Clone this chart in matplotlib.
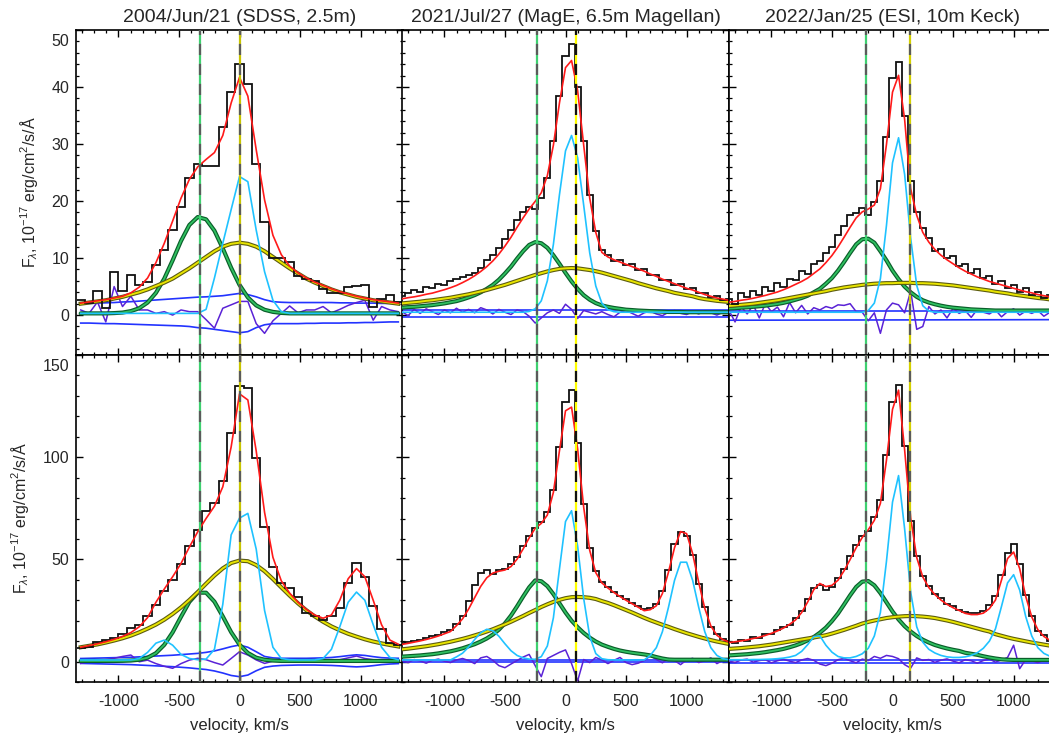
import numpy as np
import matplotlib
matplotlib.use("Agg")
import matplotlib.pyplot as plt
import matplotlib.transforms as mtransforms
from matplotlib.ticker import MultipleLocator

plt.rcParams['font.family'] = ['Liberation Sans', 'DejaVu Sans']
plt.rcParams['mathtext.fontset'] = 'custom'
plt.rcParams['mathtext.rm'] = 'Liberation Sans'
plt.rcParams['mathtext.it'] = 'Liberation Sans:italic'
plt.rcParams['axes.unicode_minus'] = False

# ---------------- text ----------------
titles = ["2004/Jun/21 (SDSS, 2.5m)", "2021/Jul/27 (MagE, 6.5m Magellan)",
          "2022/Jan/25 (ESI, 10m Keck)"]
ylabel = r"F$_\lambda$, 10$^{-17}$ erg/cm$^2$/s/Å"
xlabel = "velocity, km/s"

# ---------------- velocity grids ----------------
vel_sdss = [-1311, -1242, -1173, -1104, -1035, -966, -897, -828, -759, -690,
            -621, -552, -483, -414, -345, -276, -207, -138, -69, 0,
            69, 138, 207, 276, 345, 414, 483, 552, 621, 690,
            759, 828, 897, 966, 1035, 1104, 1173, 1242, 1311]
vel_hr = [-1350, -1300, -1250, -1200, -1150, -1100, -1050, -1000, -950, -900, -850,
          -800, -750, -700, -650, -600, -550, -500, -450, -400, -350, -300,
          -250, -200, -150, -100, -50, 0, 50, 100, 150, 200, 250,
          300, 350, 400, 450, 500, 550, 600, 650, 700, 750, 800,
          850, 900, 950, 1000, 1050, 1100, 1150, 1200, 1250, 1300, 1350]
vel_err = [-1350, 0, 1350]

# vertical reference velocities per column
vline_green = [-324, -235, -220]
vline_yellow = [0, 90, 145]

# ======== SDSS, top ========
sdss_top_flux = [2.7, 2.1, 4.2, 1.2, 7.5, 4.2, 7.0, 5.3, 5.8, 8.8, 11.4, 14.9, 19.0, 24.0, 26.5,
                 26.2, 26.2, 33.0, 39.1, 44.0, 40.5, 26.5, 16.4, 10.1, 10.0, 9.3, 6.8, 6.3, 5.9,
                 4.6, 3.9, 3.8, 5.0, 5.1, 5.3, 1.4, 2.8, 3.5, 2.3]
sdss_top_fit = [2.1, 2.3, 2.5, 2.7, 3.0, 3.3, 3.9, 4.9, 6.5, 9.2, 12.6, 16.5, 20.5, 23.8, 26.0,
                27.3, 28.5, 31.5, 37.2, 41.7, 38.4, 29.0, 20.2, 14.0, 10.6, 8.6, 7.4, 6.5, 5.8,
                5.2, 4.6, 4.1, 3.7, 3.3, 3.0, 2.7, 2.5, 2.3, 2.1]
sdss_top_narrow = [0.3, 0.3, 0.3, 0.3, 0.3, 0.3, 0.3, 0.3, 0.3, 0.3, 0.3, 0.3, 0.3, 0.3, 0.3,
                   1.0, 6.5, 12.6, 18.5, 24.3, 23.4, 14.9, 7.6, 2.6, 0.6, 0.3, 0.3, 0.3, 0.3,
                   0.3, 0.3, 0.3, 0.3, 0.3, 0.3, 0.3, 0.3, 0.3, 0.3]
sdss_top_inter = [0.3, 0.3, 0.3, 0.3, 0.35, 0.44, 0.7, 1.2, 2.2, 3.9, 6.4, 9.6, 13.0, 15.8, 17.2,
                  16.8, 14.8, 11.7, 8.3, 5.3, 3.1, 1.7, 0.93, 0.56, 0.38, 0.3, 0.3, 0.3, 0.3,
                  0.3, 0.3, 0.3, 0.3, 0.3, 0.3, 0.3, 0.3, 0.3, 0.3]
sdss_top_broad = [2.0, 2.2, 2.4, 2.6, 2.9, 3.2, 3.6, 4.0, 4.5, 5.1, 5.7, 6.4, 7.3, 8.2, 9.2,
                  10.2, 11.2, 12.0, 12.5, 12.7, 12.5, 12.0, 11.2, 10.2, 9.2, 8.2, 7.3, 6.4, 5.7,
                  5.1, 4.5, 4.0, 3.6, 3.2, 2.9, 2.6, 2.4, 2.2, 2.0]
sdss_top_err_hi = [2.0, 2.05, 2.1, 2.15, 2.2, 2.3, 2.35, 2.45, 2.55, 2.65, 2.75, 2.85, 2.95, 3.05,
                   3.15, 3.2, 3.3, 3.4, 3.6, 3.8, 3.6, 3.2, 2.7, 2.35, 2.25, 2.2, 2.2, 2.2, 2.2,
                   2.2, 2.2, 2.15, 2.15, 2.1, 2.1, 2.1, 2.05, 2.05, 2.0]
sdss_top_err_lo = [-1.4, -1.4, -1.45, -1.5, -1.5, -1.55, -1.6, -1.65, -1.7, -1.75, -1.8, -1.85,
                   -1.9, -2.0, -2.2, -2.3, -2.5, -2.7, -2.9, -3.1, -2.9, -2.2, -1.7, -1.5, -1.5,
                   -1.5, -1.5, -1.45, -1.45, -1.4, -1.4, -1.4, -1.35, -1.35, -1.3, -1.3, -1.25,
                   -1.2, -1.2]
sdss_top_resid = [0.9, 0.3, 2.3, -1.2, 5.0, 1.5, 3.3, 0.9, 0.9, 0.3, 0.6, 0.0, 0.9, 0.6,
                  0.6, -0.8, -2.3, 1.2, 1.8, 2.4, 2.4, -1.5, -3.2, -1.0, 0.3, 1.6, 0.4, 0.9, 0.9,
                  1.5, 0.4, 1.0, 1.7, 2.2, 2.6, -0.9, 1.5, 0.9, 0.6]

# ======== SDSS, bottom ========
sdss_bot_flux = [6.5, 7.3, 9.7, 10.5, 11.4, 13.5, 16.6, 17.9, 22.3, 27.5, 34.5, 40.0, 47.5, 56.5,
                 64.5, 73.5, 77.7, 88.5, 112.0, 134.8, 133.7, 99.4, 66.0, 46.4, 38.3, 35.8, 31.7,
                 23.9, 22.3, 20.3, 22.3, 26.4, 38.3, 48.0, 41.2, 27.3, 15.9, 8.9, 8.1]
sdss_bot_fit = [7.0, 7.8, 8.7, 9.7, 10.9, 12.3, 14.2, 17.0, 21.5, 29.0, 35.5, 41.5, 48.0, 56.0,
                63.5, 70.0, 76.0, 85.5, 105.0, 131.0, 128.0, 103.0, 73.0, 51.0, 39.5, 33.5, 29.0,
                25.5, 22.8, 21.2, 22.8, 30.0, 40.5, 45.5, 41.5, 30.0, 18.0, 10.5, 8.5]
sdss_bot_narrow = [0.8, 0.8, 0.8, 0.8, 0.8, 0.8, 0.8, 1.5, 4.5, 9.0, 10.5, 8.0, 3.5, 1.5, 0.9,
                   1.2, 6.0, 28.0, 62.0, 70.2, 72.5, 55.0, 25.0, 7.0, 1.5, 0.9, 0.8, 0.8, 0.8,
                   1.5, 6.0, 17.0, 29.0, 34.0, 30.0, 18.0, 7.0, 2.0, 0.9]
sdss_bot_inter = [0.3, 0.3, 0.3, 0.3, 0.3, 0.35, 0.5, 0.9, 1.9, 4.1, 8.2, 14.3, 21.9, 29.2, 33.7,
                  33.7, 29.3, 22.1, 14.4, 8.3, 4.2, 1.9, 0.9, 0.5, 0.3, 0.3, 0.3, 0.3, 0.3,
                  0.3, 0.3, 0.3, 0.3, 0.3, 0.3, 0.3, 0.3, 0.3, 0.3]
sdss_bot_broad = [7.0, 7.7, 8.4, 9.3, 10.3, 11.4, 12.7, 14.3, 16.1, 18.1, 20.5, 23.3, 26.5, 30.1,
                  34.0, 38.1, 42.1, 45.6, 48.2, 49.4, 49.1, 47.2, 44.2, 40.4, 36.3, 32.3, 28.5,
                  25.1, 22.1, 19.5, 17.2, 15.3, 13.6, 12.2, 10.9, 9.8, 8.9, 8.1, 7.4]
sdss_bot_err_hi = [1.5, 1.6, 1.7, 1.8, 1.9, 2.0, 2.1, 2.3, 2.5, 2.7, 2.9, 3.1, 3.4, 3.7, 4.0, 4.5,
                   5.2, 6.2, 7.3, 8.1, 7.0, 4.8, 2.5, 1.8, 1.6, 1.6, 1.6, 1.6, 1.7, 1.8, 2.0, 2.4,
                   2.9, 3.3, 3.0, 2.4, 1.9, 1.7, 1.6]
sdss_bot_err_lo = [-0.9, -1.0, -1.1, -1.2, -1.3, -1.4, -1.5, -1.7, -1.9, -2.1, -2.3, -2.5, -2.8,
                   -3.1, -3.5, -3.9, -4.6, -5.6, -6.8, -7.4, -6.6, -4.5, -2.8, -2.2, -1.9, -1.8,
                   -1.7, -1.7, -1.7, -1.8, -1.9, -2.1, -2.4, -2.6, -2.4, -2.0, -1.5, -1.2, -1.0]
sdss_bot_resid = [-0.9, 0.0, 0.5, 1.0, 1.6, 2.5, 3.2, -0.1, 0.7, -1.0, -2.3, -3.3, -1.0, 0.7,
                  1.6, 0.9, -0.5, -1.7, 1.5, 4.8, 3.2, 0.8, -0.9, 0.2, 0.7, 0.3, 0.7, 0.2, 0.7,
                  0.5, 0.3, 0.9, 1.8, 2.7, 1.5, 0.9, 0.5, 0.8, 0.5]

# ======== MagE, top ========
mage_top_flux = [3.3, 3.9, 4.4, 4.0, 4.9, 4.8, 5.5, 5.3, 5.9, 6.4, 6.6,
                 7.1, 7.4, 8.3, 9.6, 10.6, 11.8, 13.4, 14.9, 16.6, 18.0, 19.0,
                 18.6, 20.5, 24.0, 30.5, 38.5, 45.5, 47.5, 40.0, 30.5, 21.0, 14.8,
                 11.4, 10.6, 9.5, 9.7, 8.7, 8.9, 7.9, 8.0, 7.1, 7.0, 6.1,
                 6.2, 5.3, 5.4, 4.5, 4.7, 3.8, 3.9, 3.1, 3.3, 2.6, 2.9]
mage_top_fit = [2.85, 3.05, 3.2, 3.4, 3.65, 3.85, 4.15, 4.45, 4.8, 5.2, 5.7,
                6.25, 6.9, 7.65, 8.5, 9.5, 10.7, 12.1, 13.65, 15.4, 17.05, 18.6,
                19.95, 21.45, 24.45, 29.8, 37.2, 43.4, 44.65, 39.4, 29.85, 20.5, 14.5,
                11.0, 10.2, 9.7, 9.3, 8.9, 8.5, 8.1, 7.7, 7.2, 6.8, 6.3,
                5.9, 5.5, 5.1, 4.7, 4.4, 4.0, 3.6, 3.3, 3.0, 2.8, 2.6]
mage_top_narrow = [0.5, 0.5, 0.5, 0.5, 0.5, 0.5, 0.5, 0.5, 0.5, 0.5, 0.5,
                   0.5, 0.5, 0.5, 0.5, 0.5, 0.5, 0.5, 0.5, 0.5, 0.5, 0.64,
                   1.1, 2.5, 6.0, 12.4, 21.1, 28.8, 31.5, 27.6, 19.3, 10.9, 5.1,
                   2.1, 0.95, 0.6, 0.5, 0.5, 0.5, 0.5, 0.5, 0.5, 0.5, 0.5,
                   0.5, 0.5, 0.5, 0.5, 0.5, 0.5, 0.5, 0.5, 0.5, 0.5, 0.5]
mage_top_inter = [1.3, 1.4, 1.45, 1.55, 1.65, 1.75, 1.9, 2.05, 2.25, 2.45, 2.75,
                  3.1, 3.5, 4.0, 4.6, 5.3, 6.2, 7.3, 8.5, 9.9, 11.2, 12.3,
                  12.8, 12.6, 11.8, 10.5, 9.0, 7.4, 5.9, 4.6, 3.5, 2.7, 2.1,
                  1.7, 1.45, 1.25, 1.1, 0.95, 0.88, 0.8, 0.75, 0.7, 0.65, 0.6,
                  0.55, 0.55, 0.55, 0.5, 0.5, 0.5, 0.5, 0.5, 0.5, 0.5, 0.5]
mage_top_broad = [2.05, 2.15, 2.25, 2.35, 2.5, 2.6, 2.75, 2.9, 3.05, 3.25, 3.45,
                  3.65, 3.9, 4.15, 4.4, 4.7, 5.0, 5.3, 5.65, 6.0, 6.35, 6.7,
                  7.05, 7.35, 7.65, 7.9, 8.1, 8.2, 8.25, 8.2, 8.05, 7.9, 7.7,
                  7.45, 7.15, 6.85, 6.55, 6.25, 5.95, 5.6, 5.3, 5.0, 4.7, 4.45,
                  4.2, 3.9, 3.7, 3.5, 3.3, 3.0, 2.8, 2.65, 2.5, 2.4, 2.3]
mage_top_err_hi = [0.9, 0.9, 0.9]
mage_top_err_lo = [-0.4, -0.4, -0.4]
mage_top_resid = [0.6, -0.1, 1.0, 0.3, 1.1, 0.6, 0.1, 0.9, 0.4, 1.2, 0.5,
                  1.0, 0.4, 1.3, 0.9, 0.2, 1.0, 0.5, 0.1, 0.9, 0.6, -0.2,
                  -1.4, -0.5, 0.4, 0.9, 0.3, 1.9, 1.0, -0.6, 0.8, 0.5, 0.2,
                  0.6, 0.1, -0.3, 0.5, 0.8, 0.3, -0.2, 0.4, 0.7, 0.2, -0.1,
                  0.5, 0.8, 0.3, 0.1, 0.6, 0.2, 0.7, 0.4, 0.0, 0.5, 0.3]

# ======== MagE, bottom ========
mage_bot_flux = [8.9, 9.5, 10.2, 10.6, 11.4, 12.3, 13.2, 14.3, 15.4, 18.3, 22.5,
                 29.5, 37.5, 43.5, 44.8, 43.0, 44.6, 45.5, 47.5, 51.0, 56.5, 61.5,
                 65.5, 68.5, 73.0, 84.0, 105.0, 127.0, 133.0, 107.0, 77.0, 55.5, 44.5,
                 38.8, 36.4, 34.2, 32.0, 30.4, 28.6, 27.2, 25.8, 26.0, 28.0, 34.5,
                 45.0, 57.5, 63.5, 61.5, 52.0, 38.0, 26.5, 17.0, 13.4, 11.0, 9.9]
mage_bot_fit = [8.4, 8.9, 9.5, 10.1, 10.8, 11.6, 12.5, 13.6, 14.7, 17.6, 20.9,
                25.7, 31.3, 36.8, 41.0, 43.3, 44.2, 44.8, 46.5, 50.1, 55.1, 60.5,
                65.2, 67.6, 71.7, 82.8, 103.1, 122.7, 124.5, 104.1, 75.6, 54.4, 43.5,
                38.5, 36.0, 33.8, 31.8, 30.0, 28.3, 26.6, 24.9, 25.4, 27.3, 33.3,
                43.7, 55.7, 63.6, 62.6, 52.8, 38.7, 26.0, 17.4, 12.9, 10.7, 9.6]
mage_bot_narrow = [0.8, 0.8, 0.8, 0.8, 0.8, 0.8, 0.8, 0.8, 0.8, 2.3, 4.1,
                   7.1, 10.8, 14.1, 15.8, 15.1, 12.4, 8.7, 5.3, 3.0, 1.8, 1.2,
                   1.1, 2.4, 7.6, 21.4, 45.2, 68.5, 73.8, 56.5, 30.9, 12.3, 3.9,
                   1.4, 0.9, 0.8, 0.8, 0.8, 0.8, 0.8, 0.8, 3.0, 6.8, 14.6,
                   26.5, 39.7, 48.6, 48.6, 39.7, 26.5, 14.6, 6.8, 3.0, 1.4, 0.9]
mage_bot_inter = [2.4, 2.6, 2.8, 3.0, 3.3, 3.6, 4.0, 4.5, 5.0, 5.7, 6.5,
                  7.5, 8.5, 9.8, 11.3, 13.2, 15.6, 18.7, 22.5, 27.0, 31.8, 36.3,
                  39.7, 39.3, 36.9, 33.0, 28.5, 24.0, 20.0, 16.8, 14.0, 11.7, 9.8,
                  8.3, 7.2, 6.2, 5.4, 4.8, 4.3, 3.9, 3.5, 3.0, 2.2, 1.5,
                  1.0, 0.9, 0.9, 0.9, 0.9, 0.9, 0.9, 0.9, 0.9, 0.9, 0.9]
mage_bot_broad = [6.0, 6.3, 6.7, 7.1, 7.5, 8.0, 8.5, 9.1, 9.7, 10.4, 11.1,
                  11.9, 12.8, 13.7, 14.7, 15.8, 17.0, 18.2, 19.5, 20.9, 22.3, 23.8,
                  25.2, 26.7, 28.0, 29.2, 30.2, 31.0, 31.5, 31.6, 31.5, 31.2, 30.6,
                  29.6, 28.7, 27.6, 26.4, 25.2, 24.0, 22.7, 21.4, 20.2, 19.1, 18.0,
                  17.0, 15.9, 14.9, 13.9, 13.0, 12.1, 11.3, 10.5, 9.8, 9.2, 8.6]
mage_bot_err_hi = [1.0, 1.0, 1.0]
mage_bot_err_lo = [-0.4, -0.4, -0.4]
mage_bot_resid = [0.5, -0.5, 1.0, 0.3, -0.8, 0.6, 1.2, 0.2, -0.5, 0.8, 1.5,
                  0.5, -1.0, 1.8, 2.5, 0.6, -2.0, -3.0, -1.2, 0.5, 2.2, 3.5,
                  -2.0, -7.4, 1.5, 3.0, 4.5, 5.7, -1.0, -9.5, 1.0, -0.5, 2.0,
                  0.8, -1.0, 0.6, 2.0, -0.5, -1.5, -0.8, 0.5, 2.8, 1.0, -0.6,
                  1.5, 0.5, -1.5, 0.8, 1.6, -0.5, 0.4, 1.8, -1.0, 0.6, 0.9]

# ======== ESI, top ========
esi_top_flux = [2.9, 2.0, 3.8, 3.1, 4.2, 3.5, 4.9, 4.3, 5.6, 5.0, 6.4,
                6.1, 7.8, 7.2, 8.9, 9.4, 10.9, 12.0, 14.1, 15.6, 17.5, 17.9,
                18.8, 17.6, 19.9, 23.5, 31.2, 41.5, 44.4, 35.0, 23.5, 18.0, 15.2,
                13.5, 11.2, 11.6, 10.0, 10.3, 8.6, 8.9, 7.4, 8.1, 6.5, 6.9,
                5.4, 6.0, 4.7, 5.3, 4.0, 4.8, 3.5, 4.1, 3.0, 3.6, 2.8]
esi_top_fit = [2.25, 2.4, 2.6, 2.75, 2.95, 3.2, 3.45, 3.75, 4.05, 4.45, 4.9,
               5.4, 5.9, 6.5, 7.3, 8.1, 9.2, 10.45, 11.95, 13.65, 15.4, 17.05,
               18.1, 18.6, 19.3, 22.15, 29.9, 39.1, 42.05, 34.35, 22.15, 17.5, 14.5,
               12.8, 11.5, 10.5, 9.7, 9.0, 8.3, 7.7, 7.2, 6.7, 6.3, 5.9,
               5.6, 5.3, 5.0, 4.7, 4.4, 4.1, 3.9, 3.6, 3.4, 3.2, 3.0]
esi_top_narrow = [0.5, 0.5, 0.5, 0.5, 0.5, 0.5, 0.5, 0.5, 0.5, 0.5, 0.5,
                  0.5, 0.5, 0.5, 0.5, 0.5, 0.5, 0.5, 0.5, 0.5, 0.5, 0.5,
                  0.5, 0.8, 2.1, 6.4, 15.7, 26.7, 31.1, 24.7, 13.5, 5.2, 1.65,
                  0.7, 0.5, 0.5, 0.5, 0.5, 0.5, 0.5, 0.5, 0.5, 0.5, 0.5,
                  0.5, 0.5, 0.5, 0.5, 0.5, 0.5, 0.5, 0.5, 0.5, 0.5, 0.5]
esi_top_inter = [1.15, 1.2, 1.3, 1.35, 1.45, 1.55, 1.65, 1.8, 1.95, 2.15, 2.4,
                 2.7, 3.0, 3.4, 4.0, 4.6, 5.5, 6.5, 7.8, 9.3, 10.9, 12.4,
                 13.3, 13.4, 12.7, 11.2, 9.6, 7.8, 6.3, 5.0, 4.0, 3.2, 2.6,
                 2.2, 1.9, 1.65, 1.45, 1.3, 1.2, 1.1, 1.0, 0.95, 0.9, 0.85,
                 0.8, 0.8, 0.8, 0.8, 0.8, 0.8, 0.8, 0.8, 0.8, 0.8, 0.8]
esi_top_broad = [1.6, 1.7, 1.8, 1.9, 2.0, 2.15, 2.3, 2.45, 2.6, 2.8, 3.0,
                 3.2, 3.4, 3.6, 3.8, 4.0, 4.2, 4.45, 4.65, 4.85, 5.0, 5.15,
                 5.3, 5.4, 5.5, 5.55, 5.6, 5.6, 5.65, 5.65, 5.65, 5.6, 5.6,
                 5.55, 5.5, 5.4, 5.3, 5.2, 5.05, 4.9, 4.75, 4.6, 4.45, 4.3,
                 4.1, 3.95, 3.8, 3.6, 3.45, 3.3, 3.15, 3.0, 2.9, 2.75, 2.6]
esi_top_err_hi = [0.8, 0.8, 0.8]
esi_top_err_lo = [-0.9, -0.85, -0.8]
esi_top_resid = [0.8, -1.2, 1.5, 0.2, 1.8, -0.5, 2.0, 0.6, 1.4, -0.3, 2.2,
                 0.4, 1.7, 0.2, 1.3, 0.9, 1.5, 1.2, 1.8, 1.7, 2.0, 0.6,
                 0.5, -1.0, 0.4, -3.2, 0.9, 2.1, 1.8, 0.4, 4.2, -2.5, -2.0,
                 1.5, 0.2, 0.9, -0.5, 1.2, 0.3, 0.8, -0.4, 1.0, 0.5, 0.2,
                 0.9, -0.3, 0.6, 1.1, 0.0, 0.7, 0.3, 0.8, -0.2, 0.5, 0.4]

# ======== ESI, bottom ========
esi_bot_flux = [9.8, 9.0, 10.6, 10.2, 11.8, 11.5, 13.3, 13.6, 15.6, 16.9, 18.0,
                21.2, 24.8, 30.5, 36.0, 37.5, 35.2, 36.4, 40.8, 45.5, 51.5, 57.0,
                61.5, 63.8, 70.5, 79.0, 101.0, 127.0, 135.3, 105.5, 69.0, 51.5, 42.0,
                36.8, 33.2, 31.0, 28.4, 27.0, 25.3, 24.4, 23.6, 24.0, 24.6, 27.5,
                32.0, 42.5, 53.0, 57.5, 47.5, 32.5, 22.5, 15.0, 12.8, 10.2, 9.6]
esi_bot_fit = [9.3, 9.7, 10.1, 10.6, 11.3, 11.9, 12.8, 13.8, 15.0, 16.4, 18.2,
               20.4, 24.0, 29.2, 35.2, 38.2, 36.7, 37.3, 39.8, 44.4, 49.9, 55.7,
               60.7, 64.5, 69.1, 77.4, 98.5, 123.4, 132.8, 103.7, 70.2, 50.9, 41.4,
               36.2, 32.8, 30.1, 28.0, 26.35, 25.0, 23.6, 23.0, 23.0, 23.7, 25.9,
               30.1, 39.9, 50.4, 53.6, 45.5, 31.9, 21.8, 15.6, 12.3, 10.4, 9.3]
esi_bot_narrow = [0.9, 0.9, 0.9, 0.9, 1.0, 1.0, 1.1, 1.2, 1.4, 1.7, 2.2,
                  3.0, 5.0, 8.3, 12.2, 12.6, 8.0, 4.6, 2.5, 1.8, 1.8, 2.5,
                  3.8, 6.5, 12.5, 24.0, 49.0, 78.0, 91.0, 65.0, 34.0, 17.0, 9.5,
                  6.0, 4.2, 3.0, 2.3, 2.0, 2.0, 2.3, 3.0, 4.3, 6.5, 10.0,
                  16.0, 27.0, 38.5, 42.5, 35.0, 22.0, 12.5, 6.8, 4.0, 2.6, 1.9]
esi_bot_inter = [3.0, 3.2, 3.4, 3.6, 3.9, 4.2, 4.6, 5.1, 5.6, 6.2, 7.0,
                 7.9, 9.0, 10.4, 12.0, 14.1, 16.6, 19.8, 23.5, 27.9, 32.4, 36.5,
                 39.1, 39.4, 37.3, 33.5, 29.0, 24.5, 20.6, 17.3, 14.7, 12.5, 10.7,
                 9.3, 8.1, 7.2, 6.4, 5.75, 5.2, 4.3, 3.8, 3.3, 2.6, 2.0,
                 1.5, 1.1, 0.9, 0.8, 0.8, 0.8, 0.8, 0.8, 0.8, 0.8, 0.8]
esi_bot_broad = [6.2, 6.4, 6.6, 6.9, 7.2, 7.5, 7.9, 8.3, 8.8, 9.3, 9.8,
                 10.3, 10.8, 11.3, 11.8, 12.3, 12.9, 13.7, 14.6, 15.5, 16.5, 17.5,
                 18.6, 19.4, 20.1, 20.7, 21.3, 21.7, 22.0, 22.2, 22.3, 22.2, 22.0,
                 21.7, 21.3, 20.7, 20.1, 19.4, 18.6, 17.8, 17.0, 16.2, 15.4, 14.7,
                 13.4, 12.6, 11.8, 11.1, 10.5, 9.9, 9.3, 8.8, 8.3, 7.8, 7.4]
esi_bot_err_hi = [1.0, 1.0, 1.0]
esi_bot_err_lo = [-0.5, -0.5, -0.5]
esi_bot_resid = [0.3, -0.5, 0.8, 1.2, -0.3, 0.5, 0.9, -0.6, 0.4, 1.1, 0.2,
                 -0.5, 0.8, 1.5, 0.6, -1.2, -2.0, -0.8, 0.9, 1.6, 0.4, -0.6,
                 1.2, 0.5, 2.5, 1.6, 3.0, 2.5, 1.4, -1.5, -3.2, 1.8, 0.6,
                 1.0, -0.4, 0.7, 1.3, 0.2, -0.6, 0.9, 0.4, -0.8, 0.5, 1.2,
                 -0.3, 0.8, 2.0, 8.0, -3.5, 1.0, 0.4, -0.5, 0.6, 0.3, 0.2]

# ---------------- assemble ----------------
panels = [
    [(vel_sdss, sdss_top_flux, sdss_top_fit, sdss_top_narrow, sdss_top_inter, sdss_top_broad,
      vel_sdss, sdss_top_err_hi, sdss_top_err_lo, sdss_top_resid),
     (vel_hr, mage_top_flux, mage_top_fit, mage_top_narrow, mage_top_inter, mage_top_broad,
      vel_err, mage_top_err_hi, mage_top_err_lo, mage_top_resid),
     (vel_hr, esi_top_flux, esi_top_fit, esi_top_narrow, esi_top_inter, esi_top_broad,
      vel_err, esi_top_err_hi, esi_top_err_lo, esi_top_resid)],
    [(vel_sdss, sdss_bot_flux, sdss_bot_fit, sdss_bot_narrow, sdss_bot_inter, sdss_bot_broad,
      vel_sdss, sdss_bot_err_hi, sdss_bot_err_lo, sdss_bot_resid),
     (vel_hr, mage_bot_flux, mage_bot_fit, mage_bot_narrow, mage_bot_inter, mage_bot_broad,
      vel_err, mage_bot_err_hi, mage_bot_err_lo, mage_bot_resid),
     (vel_hr, esi_bot_flux, esi_bot_fit, esi_bot_narrow, esi_bot_inter, esi_bot_broad,
      vel_err, esi_bot_err_hi, esi_bot_err_lo, esi_bot_resid)],
]

vyellow_colors = ['#c8c400', '#ffff00', '#d4d000']
vdash_colors = ['#5a5a5a', '#111111', '#5a5a5a']

W, H = 1049, 745
fig = plt.figure(figsize=(W / 100, H / 100), dpi=100)

col_x = [76, 402, 729]
col_w = 327
row_y = [(30, 355), (355, 682)]
ylims = [(-7, 50), (-10, 150)]
ymaj = [10, 50]
ymin = [2, 10]
ytop_label = [50, 150]

txtc = '#262626'
axes_left = []

for r in range(2):
    for c in range(3):
        top, bot = row_y[r]
        ax = fig.add_axes([col_x[c] / W, (H - bot) / H, col_w / W, (bot - top) / H])
        (v, flux, fit, narrow, inter, broad, verr, ehi, elo, resid) = panels[r][c]
        v = np.asarray(v, float)
        dv = v[1] - v[0]
        edges = np.append(v - dv / 2, v[-1] + dv / 2)

        ax.plot(verr, ehi, color='#2233ff', lw=1.2, zorder=2)
        ax.plot(verr, elo, color='#2233ff', lw=1.2, zorder=2)
        ax.plot(v, resid, color='#5a22d6', lw=1.1, zorder=3)
        ax.plot(v, inter, color='#0a5e2a', lw=3.0, zorder=4, solid_capstyle='round')
        ax.plot(v, inter, color='#2fc060', lw=1.3, zorder=4.1)
        ax.plot(v, broad, color='#5c5c10', lw=3.0, zorder=4.2)
        ax.plot(v, broad, color='#e8e400', lw=1.4, zorder=4.3)
        ax.plot(v, narrow, color='#1fc2ff', lw=1.2, zorder=5)
        ax.stairs(flux, edges, baseline=None, color='#111111', lw=1.3, zorder=6)
        ax.plot(v, fit, color='#ff1a1a', lw=1.2, zorder=7)

        ax.axvline(vline_green[c], color='#3fd070', lw=1.6, zorder=8)
        ax.axvline(vline_green[c], color='#5a5a5a', lw=1.6, dashes=(5, 4), zorder=8.1)
        ax.axvline(vline_yellow[c], color=vyellow_colors[c], lw=1.6, zorder=8)
        ax.axvline(vline_yellow[c], color=vdash_colors[c], lw=1.6, dashes=(5, 4), zorder=8.1)

        ax.set_xlim(-1350, 1350)
        ax.set_ylim(*ylims[r])
        ax.xaxis.set_major_locator(MultipleLocator(500))
        ax.xaxis.set_minor_locator(MultipleLocator(100))
        ax.yaxis.set_major_locator(MultipleLocator(ymaj[r]))
        ax.yaxis.set_minor_locator(MultipleLocator(ymin[r]))
        ax.tick_params(which='both', direction='in', top=True, right=True,
                       colors='black', labelcolor=txtc, labelsize=11.5)
        ax.tick_params(which='major', length=4.8, width=1.0)
        ax.tick_params(which='minor', length=2.4, width=0.9)
        ax.tick_params(axis='x', pad=9)
        ax.tick_params(axis='y', pad=5)
        for s in ax.spines.values():
            s.set_linewidth(1.2)

        if r == 0:
            ax.set_xticklabels([])
            ax.set_title(titles[c], fontsize=14, color=txtc, pad=6)
        else:
            ax.set_xlabel(xlabel, fontsize=12, color=txtc, labelpad=6)
        if c == 0:
            ax.set_ylabel(ylabel, fontsize=11.5, color=txtc, labelpad=8)
            axes_left.append((ax, ytop_label[r]))
        else:
            ax.set_yticklabels([])

# nudge the topmost y tick label of each left panel inside the frame
fig.canvas.draw()
shift = mtransforms.ScaledTranslation(0, -7 / 72, fig.dpi_scale_trans)
for ax, top_val in axes_left:
    for tick in ax.yaxis.get_major_ticks():
        if abs(tick.get_loc() - top_val) < 1e-6:
            tick.label1.set_transform(tick.label1.get_transform() + shift)

fig.savefig('out.png', dpi=100)
